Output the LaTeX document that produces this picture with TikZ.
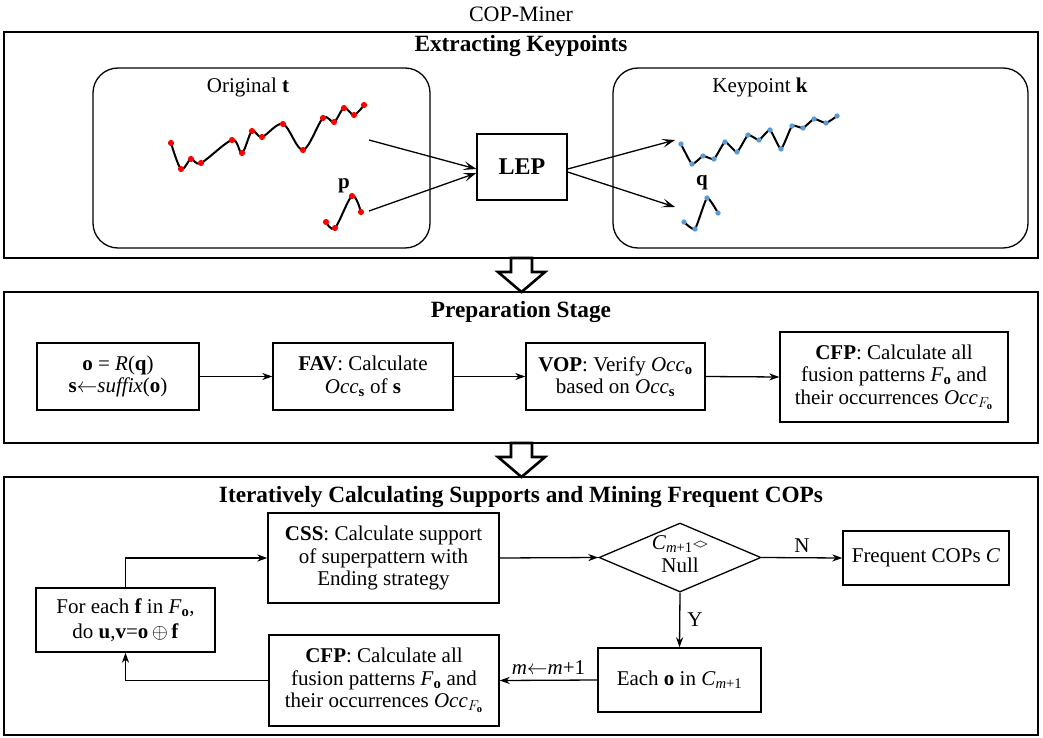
\documentclass[tikz,border=0pt]{standalone}
\usepackage{fontspec}
\setmainfont{Liberation Serif}
\usetikzlibrary{positioning,arrows.meta,shapes.geometric}
\definecolor{ptred}{RGB}{255,0,0}
\definecolor{ptblue}{RGB}{91,155,213}
\newcommand{\boxfont}{\fontsize{21}{22.5}\selectfont}
\newcommand{\headfont}{\fontsize{22}{26}\selectfont}

\begin{document}
\begin{tikzpicture}[x=1pt,y=-1pt,
	box/.style={draw,line width=1.3pt,align=center,font=\boxfont},
	frame/.style={draw,line width=1.3pt},
	flow/.style={line width=1.3pt,-{Stealth[length=10pt,width=7pt,inset=3pt]}},
	feed/.style={line width=1.3pt,-{Stealth[length=13pt,width=9pt,inset=6pt]}},
	hollow/.style={draw,line width=2.6pt,fill=white,line join=miter},
	series/.style={line width=2pt,line cap=round}]
		\tikzstyle{every node}+=[inner sep=0pt]
		\useasboundingbox (0,0) rectangle (1043,738);
		\node [font=\headfont] (miner) at (521,14) {COP-Miner};
		\draw [frame] (4,32) rectangle (1038,258);
		\draw [frame] (4,292) rectangle (1038,443);
		\draw [frame] (4,477) rectangle (1038,735);
		\node [font=\fontsize{23.3}{27}\selectfont\bfseries] (extract) at (521,46) {Extracting Keypoints};
		\node [font=\fontsize{23.3}{27}\selectfont\bfseries] (prep) at (521,312) {Preparation Stage};
		\node [font=\fontsize{23.3}{27}\selectfont\bfseries] (iter) at (521,497) {Iteratively Calculating Supports and Mining Frequent COPs};
		\foreach \y in {258,443}
			\draw [hollow] (511,\y) -- (532,\y) -- (532,\y+14) -- (545,\y+14) -- (521.5,\y+34) -- (498,\y+14) -- (511,\y+14) -- cycle;
		% keypoint extraction
		\draw [line width=1.3pt,rounded corners=25pt] (93,68) rectangle (430,248);
		\draw [line width=1.3pt,rounded corners=25pt] (613,68) rectangle (1028,248);
		\node [font=\boxfont] (orig) at (248,87) {Original \textbf{t}};
		\node [font=\boxfont] (keyp) at (760,87) {Keypoint \textbf{k}};
		\node [font=\boxfont] (plab) at (344,186) {\textbf{p}};
		\node [font=\boxfont] (qlab) at (702,183) {\textbf{q}};
		\draw [series] plot [smooth,tension=0.55] coordinates {(171,143) (181,169) (191,159) (201,163) (232,140) (242,153) (252,131) (262,137) (283,124) (303,150) (323,118) (334,122) (344,108) (354,115) (364,105)};
		\foreach \pt in {(171,143),(181,169),(191,159),(201,163),(232,140),(242,153),(252,131),(262,137),(283,124),(303,150),(323,118),(334,122),(344,108),(354,115),(364,105)}
			\fill [ptred] \pt circle (3.1);
		\draw [series] plot [smooth,tension=0.55] coordinates {(326,222) (335,228) (352,196) (361,212)};
		\foreach \pt in {(326,222),(335,228),(352,196),(361,212)}
			\fill [ptred] \pt circle (3.1);
		\draw [series] plot [smooth,tension=0.3] coordinates {(681,144) (692,164) (703,156) (714,159) (725,142) (737,152) (748,135) (759,140) (770,130) (781,149) (792,126) (803,128) (814,119) (826,123) (837,116)};
		\foreach \pt in {(681,144),(692,164),(703,156),(714,159),(725,142),(737,152),(748,135),(759,140),(770,130),(781,149),(792,126),(803,128),(814,119),(826,123),(837,116)}
			\fill [ptblue] \pt circle (2.7);
		\draw [series] plot [smooth,tension=0.3] coordinates {(684,222) (695,229) (707,198) (718,213)};
		\foreach \pt in {(684,222),(695,229),(707,198),(718,213)}
			\fill [ptblue] \pt circle (2.7);
		\node [draw,line width=1.3pt,minimum width=90,minimum height=66,font=\fontsize{24}{28}\selectfont\bfseries] (lep) at (522,167) {LEP};
		\coordinate (tEnd) at (369,140);
		\coordinate (pEnd) at (369,211);
		\coordinate (kHead) at (675,140);
		\coordinate (qHead) at (675,207);
		\draw [feed] (tEnd) -- ([yshift=-2pt]lep.west);
		\draw [feed] (pEnd) -- ([yshift=-6pt]lep.west);
		\draw [feed] ([yshift=-2pt]lep.east) -- (kHead);
		\draw [feed] ([yshift=-5pt]lep.east) -- (qHead);
		% preparation
		\node [box,minimum width=162,minimum height=67] (oR) at (118,376.5) {\textbf{o} = \textit{R}(\textbf{q})\\ \textbf{s}$\leftarrow$\textit{suffix}(\textbf{o})};
		\node [box,minimum width=180,minimum height=67] (fav) at (363,376.5) {\textbf{FAV}: Calculate\\ \textit{Occ}\textsubscript{\textbf{s}} of \textbf{s}};
		\node [box,minimum width=179,minimum height=67] (vop) at (615.5,376.5) {\textbf{VOP}: Verify \textit{Occ}\textsubscript{\textbf{o}}\\ based on \textit{Occ}\textsubscript{\textbf{s}}};
		\node [box,minimum width=228,minimum height=90] (cfpA) at (894,377) {\textbf{CFP}: Calculate all\\ fusion patterns \textit{F}\textsubscript{\textbf{o}} and\\ their occurrences $\mathit{Occ}_{F_{\mathbf{o}}}$};
		\draw [flow] (oR.east) -- (fav.west);
		\draw [flow] (fav.east) -- (vop.west);
		\draw [flow] (vop.east) -- (cfpA.west);
		% iteration
		\node [box,minimum width=231,minimum height=90] (css) at (383.5,558) {\textbf{CSS}: Calculate support\\ of superpattern with\\ Ending strategy};
		\node [box,minimum width=179,minimum height=64] (each) at (125.5,620) {For each \textbf{f} in \textit{F}\textsubscript{\textbf{o}},\\[2pt] do \textbf{u},\textbf{v}=\textbf{o}\,$\oplus$\,\textbf{f}};
		\node [draw,diamond,line width=1.3pt,minimum width=162,minimum height=69] (cnd) at (680,557.5) {};
		\node [font=\boxfont,align=center] (cndtxt) at (680,554) {\textit{C}\textsubscript{\textit{m}+1}{\fontsize{15}{16}\selectfont<\kern-1.5pt>}\\ Null};
		\node [box,minimum width=166,minimum height=54] (freq) at (926,558) {Frequent COPs \textit{C}};
		\node [box,minimum width=163,minimum height=64] (eacho) at (679.5,680) {Each \textbf{o} in \textit{C}\textsubscript{\textit{m}+1}};
		\node [box,minimum width=230,minimum height=91] (cfpB) at (384,680.5) {\textbf{CFP}: Calculate all\\ fusion patterns \textit{F}\textsubscript{\textbf{o}} and\\ their occurrences $\mathit{Occ}_{F_{\mathbf{o}}}$};
		\draw [flow] (each.north) |- (css.west);
		\draw [flow] (css.east) -- (cnd.west);
		\draw [flow] (cnd.east) -- node [above=5pt,font=\boxfont] (nlab) {N} (freq.west);
		\draw [flow] (cnd.south) -- node [right=7pt,font=\boxfont] (ylab) {Y} (eacho.north);
		\draw [flow] (eacho.west) -- node [above=5pt,font=\boxfont] (mlab) {\textit{m}$\leftarrow$\textit{m}+1} (cfpB.east);
		\draw [flow] (cfpB.west) -| (each.south);
\end{tikzpicture}
\end{document}
